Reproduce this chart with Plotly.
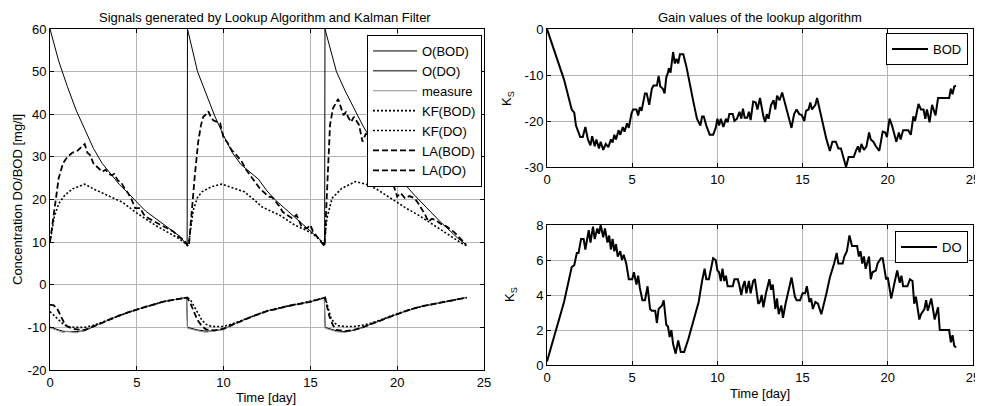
import plotly.graph_objects as go

# ---------------- Left panel: signals ----------------
t_obod = [0, 0.5, 1, 1.5, 2, 2.5, 3, 3.5, 4, 4.5, 5, 5.5, 6, 6.5, 7, 7.5, 7.9, 7.92,
          8.5, 9, 9.5, 10, 10.5, 11, 11.5, 12, 12.5, 13, 13.5, 14, 14.5, 15, 15.5, 15.82, 15.84,
          16.5, 17, 17.5, 18, 18.5, 19, 19.5, 20, 20.5, 21, 21.5, 22, 22.5, 23, 23.5, 24]
obod = [60, 52.5, 46.5, 41, 36.5, 32, 28.5, 26, 23.5, 21.5, 19.3, 17.3, 15.8, 14.3, 13, 11.3, 9.2, 60,
        50, 44.5, 39.5, 35, 31, 28.2, 26.5, 24.8, 22, 19.8, 18, 16.2, 14.5, 12.8, 10.8, 9.3, 60,
        50, 45.5, 41.5, 37.5, 34, 30.5, 27, 25, 23.3, 21, 19, 16.8, 14.7, 12.8, 10.9, 9.3]

t_do = [0, 0.25, 0.5, 0.75, 1.0, 1.5, 2.0, 2.5, 3.0, 3.5, 4.0, 4.5, 5.0, 5.5, 6.0, 6.5, 7.0, 7.5,
        7.87, 7.92, 8.5, 9.0, 9.5, 10.0, 10.5, 11.0, 11.5, 12.0, 12.5, 13.0, 13.5, 14.0, 14.5, 15.0, 15.5,
        15.8, 15.85, 16.5, 17.0, 17.5, 18.0, 18.5, 19.0, 19.5, 20.0, 20.5, 21.0, 21.5, 22.0, 22.5, 23.0, 23.5, 24.0]
odo = [-9.9, -10.3, -10.6, -10.9, -11.0, -11.0, -10.8, -9.8, -8.9, -8.0, -7.2, -6.5, -5.8, -5.2, -4.6, -4.0, -3.6, -3.3,
       -3.0, -10.0, -10.6, -10.9, -10.8, -10.4, -9.4, -8.5, -7.7, -6.9, -6.2, -5.7, -5.2, -4.75, -4.4, -4.0, -3.4,
       -3.0, -10.0, -10.8, -11.0, -10.7, -10.0, -9.2, -8.4, -7.6, -6.9, -6.2, -5.5, -5.0, -4.6, -4.2, -3.8, -3.4, -3.0]
measure = [-10.1, -10.5, -10.8, -11.2, -10.9, -11.3, -10.6, -9.6, -9.1, -7.8, -7.4, -6.3, -5.9, -5.0, -4.8, -3.9, -3.7, -3.2,
           -3.1, -10.2, -10.8, -11.2, -10.6, -10.6, -9.2, -8.7, -7.5, -7.1, -6.0, -5.9, -5.0, -4.9, -4.3, -4.1, -3.3,
           -3.1, -10.2, -11.0, -11.2, -10.5, -10.2, -9.0, -8.6, -7.4, -7.1, -6.0, -5.7, -4.8, -4.7, -4.1, -3.9, -3.3, -3.0]

t_kfbod = [0, 0.25, 0.5, 0.85, 1.3, 2.0, 2.6, 3.5, 4.2, 4.9, 5.5, 6.05, 6.7, 7.4, 7.9,
           8.0, 8.25, 8.5, 8.75, 9.3, 9.9, 10.5, 11.2, 11.8, 12.2, 12.7, 13.2, 14.1, 15.1, 15.8,
           15.95, 16.25, 16.8, 17.6, 18.2, 18.75, 19.3, 19.9, 20.5, 21.2, 21.8, 22.4, 23.1, 23.8, 24.0]
kfbod = [10, 16, 19, 21, 22.5, 23.6, 22.3, 20.7, 19.3, 17.1, 15.5, 14.0, 12.5, 10.9, 9.4,
         10, 17.5, 20.5, 21.8, 23, 23.6, 22.8, 21.8, 19.8, 18.3, 17.3, 16.4, 14.0, 12.1, 9.6,
         15.6, 20.3, 22.6, 24.2, 23.6, 22.6, 21.2, 19.5, 18, 16.4, 14.8, 13.2, 11.4, 9.5, 9.2]

t_kfdo = [0, 0.25, 0.5, 0.75, 1.0, 1.5, 2.0, 2.5, 3.0, 3.5, 4.0, 4.5, 5.0, 5.5, 6.0, 6.5, 7.0, 7.5,
          7.9, 8.1, 8.3, 8.5, 8.75, 9.0, 9.25, 9.5, 10.0, 10.5, 11.0, 11.5, 12.0, 12.5, 13.0, 13.5, 14.0,
          14.5, 15.0, 15.5, 15.85, 16.0, 16.2, 16.4, 16.6, 17.0, 17.5, 18.0, 18.5, 19.0, 19.5, 20.0, 20.5,
          21.0, 21.5, 22.0, 22.5, 23.0, 23.5, 24.0]
kfdo = [-6.3, -7.2, -8.3, -9.2, -9.8, -10.0, -10.0, -9.5, -8.8, -8.0, -7.2, -6.5, -5.8, -5.2, -4.6, -4.0, -3.6, -3.3,
        -3.0, -3.6, -5.0, -6.7, -8.3, -9.3, -9.7, -9.8, -9.8, -9.2, -8.4, -7.6, -6.8, -6.1, -5.6, -5.1, -4.7,
        -4.3, -3.9, -3.4, -3.0, -5.0, -8.0, -9.0, -9.6, -9.8, -9.8, -9.5, -9.0, -8.3, -7.5, -6.8, -6.1,
        -5.5, -5.0, -4.6, -4.2, -3.8, -3.4, -3.0]

t_labod = [0, 0.25, 0.5, 0.75, 1.0, 1.3, 1.6, 1.8, 2.0, 2.15,
           2.3, 2.5, 2.6, 2.8, 3.0, 3.2, 3.4, 3.55, 3.7, 3.9,
           4.1, 4.3, 4.5, 4.7, 4.9, 5.2, 5.4, 5.67, 6.0, 6.3,
           6.5, 6.8, 7.1, 7.4, 7.6, 7.8, 7.95,
           8.0, 8.16, 8.35, 8.54, 8.7, 8.83, 9.0, 9.12, 9.25, 9.4,
           9.6, 9.8, 10.0, 10.2, 10.46, 10.7, 11.04, 11.3, 11.6, 11.85,
           12.1, 12.3, 12.57, 12.8, 13.0, 13.2, 13.4, 13.94, 14.2, 14.5,
           14.8, 15.0, 15.15, 15.5, 15.82,
           15.94, 16.05, 16.13, 16.3, 16.6, 16.9, 17.05, 17.2, 17.35, 17.5,
           17.8, 18.0, 18.2, 18.4, 18.6, 18.8, 19.1, 19.35, 19.6, 19.8,
           20.0, 20.2, 20.45, 20.7, 21.0, 21.2, 21.4, 21.6, 21.8, 22.0,
           22.2, 22.5, 22.8, 23.0, 23.3, 23.6, 23.95]
labod = [10, 17, 25, 28.5, 30, 31, 31.5, 32.3, 33, 31,
         30.5, 28.5, 28.1, 27.5, 26.5, 27, 26, 25.7, 26, 24.5,
         24, 22.6, 21.5, 20, 18, 18, 16.5, 15.6, 14.8, 14.2,
         13.8, 13.2, 12.5, 11.3, 10.8, 10, 9,
         9.2, 17.1, 26, 33.6, 37.5, 39.4, 40, 40.7, 39.5, 38.6,
         38.3, 37.9, 34.4, 33.5, 31.6, 30.6, 28.9, 27, 25.3, 23.8,
         22.5, 21.8, 20.7, 20.5, 19.5, 18.5, 17.1, 15.6, 16.4, 13.6,
         13.2, 14.0, 12.5, 10.8, 9.0,
         20.3, 30, 37.5, 41.4, 43.6, 39.8, 40.5, 39.1, 38.2, 39.4,
         37.5, 33.6, 35.5, 33, 32, 30.5, 29, 27.5, 25.7, 23,
         20.7, 21.5, 20.3, 20.8, 20.3, 19.2, 18, 16.5, 14.8, 15.5,
         15.2, 14.3, 13.8, 13.2, 12.3, 11, 9.5]

t_lado = [0, 0.2, 0.4, 0.6, 0.8, 1.0, 1.3, 1.6,
          2.0, 2.5, 3.0, 3.5, 4.0, 4.5, 5.0, 5.5, 6.0, 6.5, 7.0, 7.5,
          7.9, 8.1, 8.3, 8.5, 8.75, 9.0, 9.5,
          10.0, 10.5, 11.0, 11.5, 12.0, 12.5, 13.0, 13.5, 14.0, 14.5, 15.0, 15.5,
          15.85, 15.95, 16.1, 16.3, 16.5,
          17.0, 17.5, 18.0, 18.5, 19.0, 19.5, 20.0, 20.5, 21.0, 21.5, 22.0, 22.5, 23.0, 23.5, 24.0]
lado = [-4.7, -4.8, -5.5, -7.3, -8.8, -9.8, -10.3, -10.5,
        -10.6, -9.8, -8.9, -8.0, -7.2, -6.5, -5.8, -5.2, -4.6, -4.0, -3.6, -3.3,
        -3.0, -4.5, -6.5, -8.3, -9.7, -10.5, -10.7,
        -10.3, -9.4, -8.5, -7.7, -6.9, -6.2, -5.7, -5.2, -4.75, -4.4, -4.0, -3.4,
        -3.0, -5.0, -7.5, -9.5, -10.6,
        -10.9, -10.6, -10.0, -9.2, -8.4, -7.6, -6.9, -6.2, -5.5, -5.0, -4.6, -4.2, -3.8, -3.4, -3.0]

# ---------------- Right panels: gains ----------------
gain_bod_t = [
    0, 0.5, 1.0, 1.45, 1.6, 1.7, 1.95, 2.1, 2.25, 2.4,
    2.55, 2.65, 2.8, 2.9, 3.05, 3.15, 3.3, 3.45, 3.6, 3.75,
    3.85, 3.95, 4.05, 4.2, 4.3, 4.45, 4.55, 4.7, 4.8, 4.95,
    5.05, 5.25, 5.35, 5.45, 5.55, 5.75, 5.85, 6.0, 6.15, 6.25,
    6.45, 6.55, 6.65, 6.8, 6.9, 7.0, 7.1, 7.15, 7.25, 7.4,
    7.5, 7.6, 7.7, 7.8, 8.0, 8.2, 8.4, 8.6, 8.8, 9.0,
    9.1, 9.2, 9.35, 9.55, 9.75, 9.9, 10.0, 10.1, 10.2, 10.35,
    10.5, 10.6, 10.7, 10.9, 11.0, 11.15, 11.3, 11.4, 11.5, 11.6,
    11.75, 11.85, 11.95, 12.1, 12.25, 12.35, 12.5, 12.6, 12.7, 12.8,
    12.9, 13.0, 13.15, 13.3, 13.4, 13.5, 13.65, 13.8, 14.0, 14.2,
    14.35, 14.5, 14.65, 14.8, 14.95, 15.1, 15.2, 15.35, 15.45, 15.55,
    15.75, 15.85, 16.0, 16.2, 16.4, 16.6, 16.75, 16.95, 17.1, 17.25,
    17.4, 17.55, 17.7, 18.0, 18.15, 18.25, 18.35, 18.45, 18.6, 18.75,
    18.9, 19.0, 19.15, 19.3, 19.5, 19.7, 19.85, 19.95, 20.1, 20.25,
    20.5, 20.65, 20.75, 20.9, 21.2, 21.35, 21.5, 21.6, 21.8, 21.95,
    22.1, 22.2, 22.3, 22.45, 22.6, 22.8, 22.95, 23.6, 23.7, 23.8,
    23.9, 24.0]
gain_bod = [
    0, -5.5, -11, -17.5, -18.2, -21, -23.5, -23.5, -21.3, -24,
    -25.3, -23.3, -25.5, -24, -26, -24.5, -26.3, -25, -25.7, -24,
    -24.7, -23, -24, -22, -23, -21.3, -22.3, -20.5, -21.5, -18.5,
    -17.5, -17.5, -18.8, -17, -17.8, -14, -14, -16.5, -13, -12.3,
    -12.3, -10.2, -12.5, -13, -14, -10.5, -9.5, -8.5, -9.5, -5,
    -7.5, -6.5, -7.5, -5.5, -5.5, -8.5, -12.5, -16, -19.5, -21,
    -19, -19, -21, -23, -23, -21.5, -19.5, -21, -19.5, -21.3,
    -19.5, -20.3, -18.5, -18.5, -20, -19.5, -18, -19.5, -17.3, -19.3,
    -19.3, -18, -19.8, -15.8, -16, -17.5, -15, -17.5, -19, -20.2,
    -18.5, -19.5, -16.5, -15.5, -17.5, -14.5, -15.5, -13.8, -16.5, -19,
    -21.5, -18.5, -17.5, -18.5, -18.7, -20, -17.8, -17.5, -16, -17.5,
    -16.5, -15, -17.5, -20.5, -24, -26.5, -24.5, -24.5, -26, -26,
    -27.8, -30, -27.8, -27.8, -26.3, -25.5, -26.8, -25, -26.3, -25.5,
    -22.5, -24, -24.5, -25.5, -26.5, -22.3, -22.5, -23.5, -19.5, -21,
    -24.5, -22.5, -24, -22, -22, -23, -19, -20, -16.3, -17.5,
    -17.5, -19.5, -17.5, -20.3, -16.5, -18.8, -15, -15, -13, -14.2,
    -12.5, -12.3]

gain_do_t = [
    0, 0.5, 1.0, 1.45, 1.6, 1.75, 1.85, 2.0, 2.15, 2.25,
    2.45, 2.55, 2.7, 2.8, 2.95, 3.05, 3.15, 3.3, 3.4, 3.55,
    3.65, 3.75, 3.85, 3.95, 4.05, 4.15, 4.3, 4.4, 4.5, 4.65,
    4.8, 5.0, 5.1, 5.25, 5.35, 5.45, 5.6, 5.75, 5.9, 6.05,
    6.15, 6.35, 6.45, 6.55, 6.75, 6.85, 7.0, 7.1, 7.2, 7.3,
    7.4, 7.55, 7.7, 7.85, 8.05, 8.3, 8.6, 8.9, 9.1, 9.25,
    9.35, 9.5, 9.75, 9.9, 10.0, 10.1, 10.2, 10.3, 10.4, 10.5,
    10.6, 10.9, 11.0, 11.2, 11.3, 11.4, 11.5, 11.6, 11.7, 11.85,
    11.95, 12.1, 12.2, 12.4, 12.5, 12.6, 12.7, 12.85, 13.05, 13.15,
    13.25, 13.4, 13.5, 13.6, 13.75, 13.85, 14.0, 14.2, 14.35, 14.55,
    14.65, 14.85, 15.0, 15.15, 15.25, 15.4, 15.5, 15.6, 15.75, 15.9,
    16.1, 16.4, 16.6, 16.85, 17.0, 17.1, 17.35, 17.45, 17.6, 17.75,
    17.9, 18.2, 18.3, 18.4, 18.5, 18.6, 18.7, 18.9, 19.0, 19.1,
    19.3, 19.4, 19.6, 19.7, 19.9, 20.0, 20.2, 20.35, 20.55, 20.7,
    20.8, 20.9, 21.15, 21.3, 21.45, 21.55, 21.65, 21.85, 21.95, 22.15,
    22.25, 22.35, 22.55, 22.75, 22.95, 23.05, 23.6, 23.7, 23.8, 23.9,
    24.0]
gain_do = [
    0.2, 1.9, 3.6, 5.6, 5.7, 6.4, 6.4, 7.2, 7.2, 6.6,
    7.7, 7.0, 7.9, 7.2, 7.8, 7.5, 8.0, 7.3, 7.8, 7.0,
    7.4, 6.6, 7.2, 6.5, 6.9, 6.2, 6.5, 6.0, 6.3, 5.8,
    4.9, 4.9, 5.3, 4.6, 5.1, 4.4, 3.7, 3.7, 4.5, 3.2,
    3.1, 3.1, 2.4, 3.2, 3.4, 3.7, 2.3, 2.2, 1.6, 2.0,
    1.2, 0.65, 1.4, 0.75, 0.75, 1.5, 2.6, 3.6, 4.8, 5.5,
    4.9, 4.9, 6.1, 6.0, 5.4, 5.3, 4.8, 5.5, 4.8, 5.1,
    4.5, 4.5, 4.9, 4.9, 4.5, 4.0, 4.5, 4.8, 4.1, 4.8,
    4.1, 4.8, 4.9, 3.5, 3.6, 4.0, 3.3, 4.1, 4.9, 4.3,
    4.6, 3.2, 3.8, 2.9, 3.4, 2.7, 3.5, 4.3, 5.0, 3.9,
    3.7, 3.7, 4.1, 4.1, 4.5, 3.6, 3.8, 3.2, 3.6, 3.5,
    2.9, 4.1, 5.0, 5.8, 6.4, 5.8, 5.8, 6.2, 6.5, 7.4,
    6.8, 6.8, 6.2, 6.5, 5.8, 6.2, 5.5, 6.2, 4.9, 5.3,
    5.4, 5.8, 6.1, 6.1, 4.9, 5.0, 3.8, 4.5, 5.4, 4.7,
    5.1, 4.5, 4.5, 4.9, 4.8, 3.5, 3.9, 2.6, 2.9, 3.2,
    3.7, 3.1, 3.8, 2.6, 3.3, 2.0, 2.0, 1.3, 1.7, 1.1,
    1.0]

# tick values / labels
x_ticks = [0, 5, 10, 15, 20, 25]
y1_ticks = [-20, -10, 0, 10, 20, 30, 40, 50, 60]
y2_ticks = [-30, -20, -10, 0]
y3_ticks = [0, 2, 4, 6, 8]

FONT = "Liberation Sans, Arial, Helvetica, sans-serif"
FS = 13
OFF = 8                      # page body margin of the browser
W, H = 983 - OFF, 406 - OFF  # figure size that fits the window exactly

def px_x(p):
    return (p - OFF) / W

def px_y(p):
    return 1 - (p - OFF) / H

fig = go.Figure()

def add(x, y, name, color, width, dash, xa, ya, legend):
    fig.add_trace(go.Scatter(x=x, y=y, name=name, mode="lines",
                             line=dict(color=color, width=width, dash=dash),
                             xaxis=xa, yaxis=ya, legend=legend))

add(t_obod, obod, "O(BOD)", "black", 1, "solid", "x", "y", "legend")
add(t_do, odo, "O(DO)", "black", 1, "solid", "x", "y", "legend")
add(t_do, measure, "measure", "#8c8c8c", 1, "solid", "x", "y", "legend")
add(t_kfbod, kfbod, "KF(BOD)", "black", 1.6, "2px,2px", "x", "y", "legend")
add(t_kfdo, kfdo, "KF(DO)", "black", 1.6, "2px,2px", "x", "y", "legend")
add(t_labod, labod, "LA(BOD)", "black", 1.8, "6px,3px", "x", "y", "legend")
add(t_lado, lado, "LA(DO)", "black", 1.8, "6px,3px", "x", "y", "legend")
add(gain_bod_t, gain_bod, "BOD", "black", 2, "solid", "x2", "y2", "legend2")
add(gain_do_t, gain_do, "DO", "black", 2, "solid", "x3", "y3", "legend3")

def axis(**kw):
    base = dict(showline=True, linecolor="black", linewidth=1, mirror="ticks",
                ticks="inside", ticklen=4, tickcolor="black", tickwidth=1,
                showgrid=True, gridcolor="#b4b4b4", gridwidth=1, zeroline=False,
                automargin=False,
                tickfont=dict(size=FS, color="black", family=FONT), tickmode="array")
    base.update(kw)
    return base

xl = [str(v) for v in x_ticks]
legend_common = dict(bordercolor="black", borderwidth=1, bgcolor="white",
                     font=dict(size=FS, family=FONT, color="black"))
fig.update_layout(
    width=W, height=H, margin=dict(l=0, r=0, t=0, b=0, autoexpand=False),
    paper_bgcolor="white", plot_bgcolor="white",
    font=dict(family=FONT, size=FS, color="black"),
    xaxis=axis(domain=[px_x(50), px_x(484)], range=[0, 25], anchor="y",
               tickvals=x_ticks, ticktext=xl),
    yaxis=axis(domain=[px_y(370), px_y(29)], range=[-20, 60], anchor="x",
               tickvals=y1_ticks, ticktext=[str(v) for v in y1_ticks]),
    xaxis2=axis(domain=[px_x(547), px_x(973)], range=[0, 25], anchor="y2",
                tickvals=x_ticks, ticktext=xl),
    yaxis2=axis(domain=[px_y(167), px_y(29)], range=[-30, 0], anchor="x2",
                tickvals=y2_ticks, ticktext=[str(v) for v in y2_ticks]),
    xaxis3=axis(domain=[px_x(547), px_x(973)], range=[0, 25], anchor="y3",
                tickvals=x_ticks, ticktext=xl),
    yaxis3=axis(domain=[px_y(365), px_y(225)], range=[0, 8], anchor="x3",
                tickvals=y3_ticks, ticktext=[str(v) for v in y3_ticks]),
    legend=dict(x=px_x(482), xanchor="right", y=px_y(35), yanchor="top",
                itemwidth=44, tracegroupgap=0, **legend_common),
    legend2=dict(x=px_x(968), xanchor="right", y=px_y(33), yanchor="top",
                 itemwidth=36, **legend_common),
    legend3=dict(x=px_x(968), xanchor="right", y=px_y(231), yanchor="top",
                 itemwidth=36, **legend_common),
    showlegend=True,
)

ann = [
    dict(text="Signals generated by Lookup Algorithm and Kalman Filter", x=px_x(265), y=px_y(17), angle=0),
    dict(text="Gain values of the lookup algorithm", x=px_x(760), y=px_y(17), angle=0),
    dict(text="Time [day]", x=px_x(266), y=px_y(397), angle=0),
    dict(text="Time [day]", x=px_x(760), y=px_y(393), angle=0),
    dict(text="Concentration DO/BOD [mg/l]", x=px_x(17), y=px_y(200), angle=-90),
    dict(text="K<sub>S</sub>", x=px_x(508), y=px_y(98), angle=-90),
    dict(text="K<sub>S</sub>", x=px_x(510), y=px_y(295), angle=-90),
]
for a in ann:
    fig.add_annotation(text=a["text"], x=a["x"], y=a["y"], xref="paper", yref="paper",
                       xanchor="center", yanchor="middle", showarrow=False,
                       textangle=a["angle"], font=dict(size=FS, family=FONT, color="black"))

fig.write_html("out.html")
